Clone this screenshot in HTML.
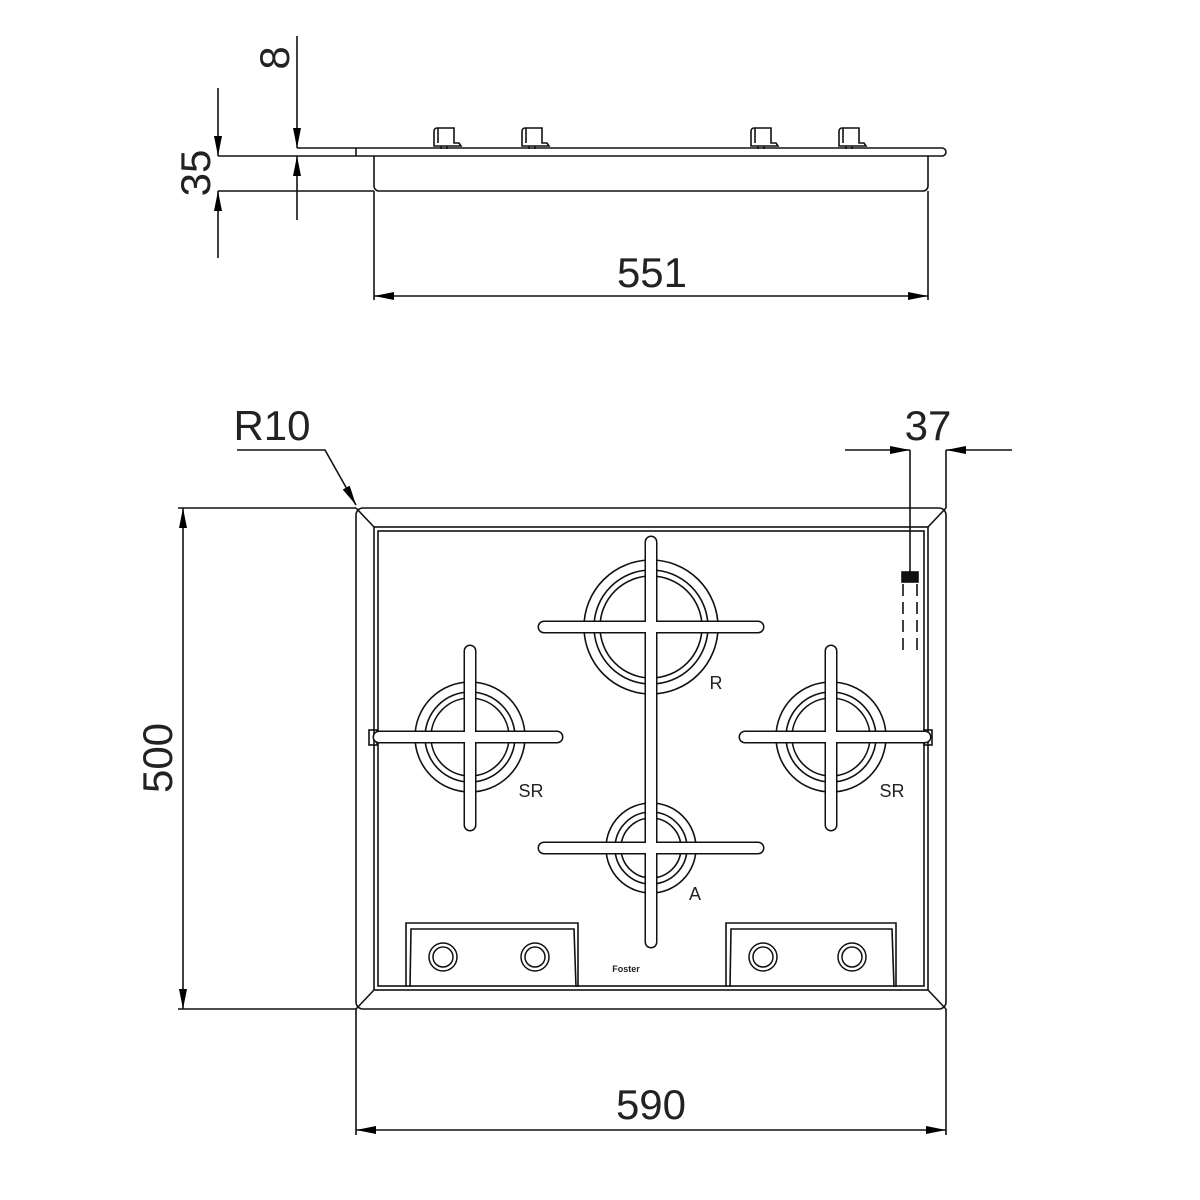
<!DOCTYPE html>
<html><head><meta charset="utf-8"><style>
html,body{margin:0;padding:0;background:#fff;}
svg{display:block;}
text{font-family:"Liberation Sans",sans-serif;fill:#222;}
</style></head><body>
<svg width="1200" height="1200" viewBox="0 0 1200 1200" xmlns="http://www.w3.org/2000/svg">
<defs>
<marker id="a" viewBox="0 0 20 8" refX="20" refY="4" markerWidth="20" markerHeight="8" markerUnits="userSpaceOnUse" orient="auto"><path d="M0,0 L20,4 L0,8z" fill="#000"/></marker>
</defs>
<g stroke="#111" stroke-width="1.6" fill="none">
<!-- SIDE VIEW -->
<path d="M297,148 H942 a4,4 0 0 1 4,4 a4,4 0 0 1 -4,4 H218"/>
<line x1="356" y1="148" x2="356" y2="156"/>
<path d="M374,156 V186 a5,5 0 0 0 5,5 H923 a5,5 0 0 0 5,-5 V156"/>
<line x1="218" y1="191" x2="374" y2="191"/>
<!-- knobs side -->
<g id="k"><path d="M434,146 V131 a3,3 0 0 1 3,-3 H454 V143 H459 L461,146 Z"/><line x1="438" y1="128" x2="438" y2="143"/><line x1="441" y1="146" x2="441" y2="149"/><line x1="447" y1="146" x2="447" y2="149"/></g>
<use href="#k" x="88"/><use href="#k" x="317"/><use href="#k" x="405"/>
<!-- dim 35 -->
<line x1="218" y1="88" x2="218" y2="156" marker-end="url(#a)"/>
<line x1="218" y1="258" x2="218" y2="191" marker-end="url(#a)"/>
<!-- dim 8 -->
<line x1="297" y1="36" x2="297" y2="148" marker-end="url(#a)"/>
<line x1="297" y1="220" x2="297" y2="156" marker-end="url(#a)"/>
<!-- dim 551 -->
<line x1="374" y1="191" x2="374" y2="300"/>
<line x1="928" y1="191" x2="928" y2="300"/>
<line x1="651" y1="296" x2="374" y2="296" marker-end="url(#a)"/>
<line x1="651" y1="296" x2="928" y2="296" marker-end="url(#a)"/>

<!-- TOP VIEW -->
<rect x="356" y="508" width="590" height="501" rx="7"/>
<rect x="374" y="527" width="554" height="463"/>
<rect x="378" y="531" width="546" height="455"/>
<line x1="356" y1="508" x2="374" y2="527"/><line x1="946" y1="508" x2="928" y2="527"/>
<line x1="356" y1="1009" x2="374" y2="990"/><line x1="946" y1="1009" x2="928" y2="990"/>
<!-- burners -->
<circle cx="651" cy="627" r="67"/><circle cx="651" cy="627" r="57"/><circle cx="651" cy="627" r="51"/>
<circle cx="470" cy="737" r="55"/><circle cx="470" cy="737" r="45"/><circle cx="470" cy="737" r="39"/>
<circle cx="831" cy="737" r="55"/><circle cx="831" cy="737" r="45"/><circle cx="831" cy="737" r="39"/>
<circle cx="651" cy="848" r="45"/><circle cx="651" cy="848" r="36"/><circle cx="651" cy="848" r="30"/>
<!-- clips -->
<rect x="369" y="730" width="8" height="15"/><rect x="924" y="730" width="8" height="15"/>
<!-- grates outline -->
<g stroke-width="3">
<rect x="646" y="537" width="10" height="410" rx="5"/>
<rect x="539" y="622" width="224" height="10" rx="5"/>
<rect x="539" y="843" width="224" height="10" rx="5"/>
<rect x="465" y="646" width="10" height="184" rx="5"/>
<rect x="374" y="732" width="188" height="10" rx="5"/>
<rect x="826" y="646" width="10" height="184" rx="5"/>
<rect x="740" y="732" width="190" height="10" rx="5"/>
</g>
<g fill="#fff" stroke="none">
<rect x="646" y="537" width="10" height="410" rx="5"/>
<rect x="539" y="622" width="224" height="10" rx="5"/>
<rect x="539" y="843" width="224" height="10" rx="5"/>
<rect x="465" y="646" width="10" height="184" rx="5"/>
<rect x="374" y="732" width="188" height="10" rx="5"/>
<rect x="826" y="646" width="10" height="184" rx="5"/>
<rect x="740" y="732" width="190" height="10" rx="5"/>
</g>
<!-- control panels -->
<path d="M406,987 V923 H578 V987 M410,987 L411,929 H574 L576,987"/>
<path d="M726,987 V923 H896 V987 M730,987 L731,929 H892 L894,987"/>
<g stroke-width="1.5">
<circle cx="443" cy="957" r="14"/><circle cx="443" cy="957" r="10"/>
<circle cx="535" cy="957" r="14"/><circle cx="535" cy="957" r="10"/>
<circle cx="763" cy="957" r="14"/><circle cx="763" cy="957" r="10"/>
<circle cx="852" cy="957" r="14"/><circle cx="852" cy="957" r="10"/>
</g>
<!-- 37 feature -->
<line x1="910" y1="450" x2="910" y2="572"/>
<line x1="946" y1="450" x2="946" y2="508"/>
<rect x="902" y="572" width="16" height="10" fill="#111"/>
<g stroke-dasharray="12,6"><line x1="903" y1="584" x2="903" y2="656"/><line x1="917" y1="584" x2="917" y2="656"/></g>
<line x1="845" y1="450" x2="910" y2="450" marker-end="url(#a)"/>
<line x1="1012" y1="450" x2="946" y2="450" marker-end="url(#a)"/>
<!-- R10 -->
<polyline points="237,450 325,450 356,505" marker-end="url(#a)"/>
<!-- 500 -->
<line x1="178" y1="508" x2="356" y2="508"/>
<line x1="178" y1="1009" x2="356" y2="1009"/>
<line x1="183" y1="758" x2="183" y2="508" marker-end="url(#a)"/>
<line x1="183" y1="758" x2="183" y2="1009" marker-end="url(#a)"/>
<!-- 590 -->
<line x1="356" y1="1009" x2="356" y2="1135"/>
<line x1="946" y1="1009" x2="946" y2="1135"/>
<line x1="651" y1="1130" x2="356" y2="1130" marker-end="url(#a)"/>
<line x1="651" y1="1130" x2="946" y2="1130" marker-end="url(#a)"/>
</g>
<g font-size="42">
<text x="652" y="287" text-anchor="middle">551</text>
<text x="272" y="440" text-anchor="middle">R10</text>
<text x="928" y="440" text-anchor="middle">37</text>
<text x="651" y="1119" text-anchor="middle">590</text>
<text transform="translate(172,758) rotate(-90)" text-anchor="middle">500</text>
<text transform="translate(210,173) rotate(-90)" text-anchor="middle">35</text>
<text transform="translate(289,58) rotate(-90)" text-anchor="middle">8</text>
</g>
<g font-size="18">
<text x="716" y="689" text-anchor="middle">R</text>
<text x="531" y="797" text-anchor="middle">SR</text>
<text x="892" y="797" text-anchor="middle">SR</text>
<text x="695" y="900" text-anchor="middle">A</text>
</g>
<text x="626" y="972" font-size="9" font-weight="bold" text-anchor="middle">Foster</text>
</svg>
</body></html>
